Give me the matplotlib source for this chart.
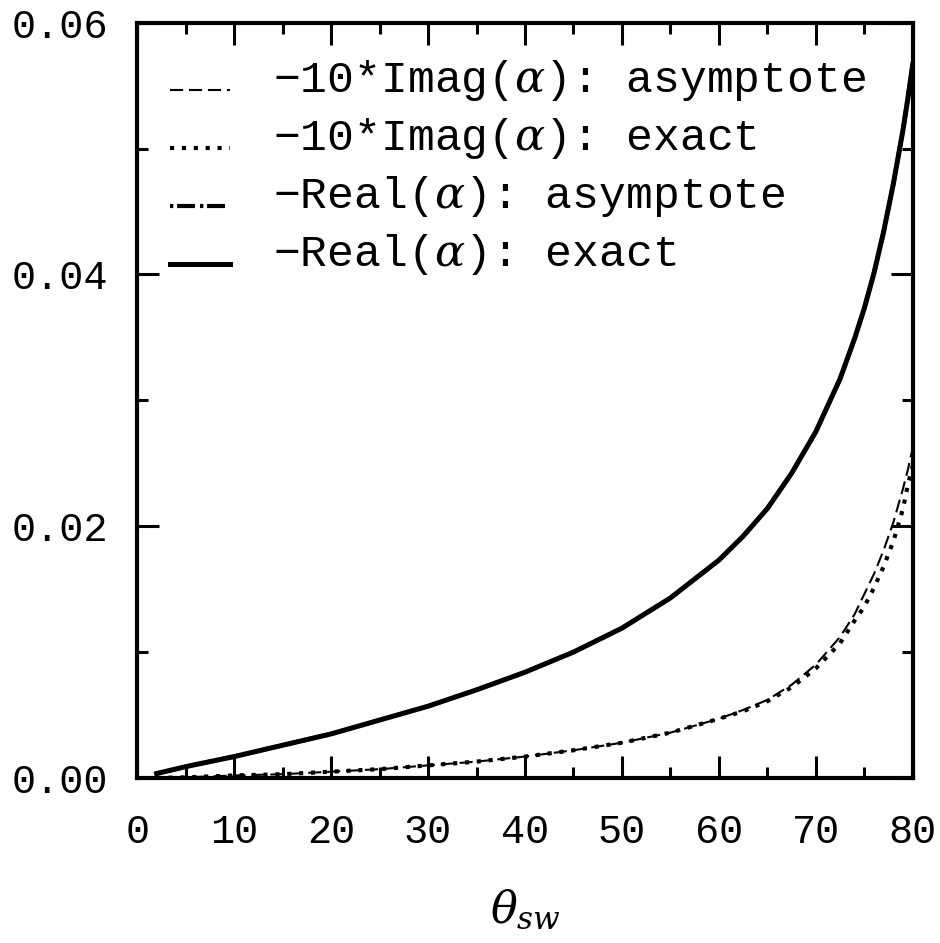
import numpy as np
import matplotlib
matplotlib.use("Agg")
import matplotlib.pyplot as plt
import matplotlib.transforms as mtransforms

plt.rcParams['font.family'] = ['Liberation Mono', 'DejaVu Sans']
plt.rcParams['mathtext.fontset'] = 'dejavuserif'

theta = [2, 5, 10, 15, 20, 25, 30, 35, 40, 45, 50, 55, 60, 62.5, 65, 67.5,
         70, 72.5, 74, 75, 76, 77, 78, 79, 79.5, 80]

# -Real(alpha), exact and asymptote (the two lie on top of each other)
real_exact = [0.00035, 0.0009, 0.0017, 0.0026, 0.0035, 0.0046, 0.0057,
              0.0070, 0.0084, 0.0100, 0.0119, 0.0143, 0.0173, 0.0192,
              0.0214, 0.0242, 0.0275, 0.0317, 0.0349, 0.0373, 0.0401,
              0.0434, 0.0472, 0.0515, 0.0540, 0.0567]
real_asym = [0.00035, 0.0009, 0.0017, 0.0026, 0.0035, 0.0046, 0.0057,
             0.0070, 0.0084, 0.0100, 0.0119, 0.0143, 0.0173, 0.0192,
             0.0214, 0.0242, 0.0275, 0.0317, 0.0349, 0.0373, 0.0401,
             0.0434, 0.0472, 0.0515, 0.0540, 0.0567]

# -10*Imag(alpha)
imag_asym = [0.0, 0.00005, 0.0002, 0.0003, 0.0005, 0.0007, 0.0010, 0.0013,
             0.0017, 0.0022, 0.0028, 0.0036, 0.0047, 0.0054, 0.0062,
             0.0074, 0.0090, 0.0112, 0.0130, 0.0146, 0.0162, 0.0181,
             0.0203, 0.0230, 0.0245, 0.0262]
imag_exact = [0.0, 0.00005, 0.0002, 0.0003, 0.0005, 0.0007, 0.0010, 0.0013,
              0.0017, 0.0022, 0.0028, 0.0036, 0.0047, 0.0053, 0.0061,
              0.0072, 0.0087, 0.0107, 0.0125, 0.0136, 0.0151, 0.0168,
              0.0188, 0.0214, 0.0233, 0.0248]

labels = ['\u221210*Imag($\\alpha$): asymptote',
          '\u221210*Imag($\\alpha$): exact',
          '\u2212Real($\\alpha$): asymptote',
          '\u2212Real($\\alpha$): exact']

fig = plt.figure(figsize=(9.4, 9.43), dpi=100)
ax = fig.add_axes([0.146, 0.175, 0.825, 0.801])

ax.plot(theta, imag_asym, color='black', lw=1.5, dashes=(6.3, 2.8),
        dash_capstyle='butt', label=labels[0])
ax.plot(theta, imag_exact, color='black', lw=3, dashes=(1, 1.85),
        dash_capstyle='butt', label=labels[1])
ax.plot(theta, real_asym, color='black', lw=3, dashes=(0.8, 0.9, 4.3, 1.2),
        dash_capstyle='butt', label=labels[2])
ax.plot(theta, real_exact, color='black', lw=3.6, label=labels[3])

ax.set_xlim(0, 80)
ax.set_ylim(0, 0.06)
ax.set_xticks(np.arange(0, 81, 10))
ax.set_xticks(np.arange(0, 81, 5), minor=True)
ax.set_yticks([0.0, 0.02, 0.04, 0.06])
ax.set_yticks(np.arange(0, 0.061, 0.01), minor=True)
ax.set_yticklabels(['0.00', '0.02', '0.04', '0.06'])

ax.tick_params(which='both', direction='in', top=True, right=True,
               width=2.2, labelsize=29)
ax.tick_params(which='major', length=16)
ax.tick_params(which='minor', length=8)
ax.tick_params(axis='x', pad=25.5)
ax.tick_params(axis='y', pad=21)
for s in ax.spines.values():
    s.set_linewidth(3)

ax.set_xlabel('$\\theta_{sw}$', fontsize=32, labelpad=26)

leg = ax.legend(loc='upper left', bbox_to_anchor=(0.0425, 0.935),
                frameon=False, fontsize=32.2, handlelength=1.34,
                handletextpad=0.95, labelspacing=0.29, borderpad=0,
                borderaxespad=0)
# the sample lines sit on the text baseline in the original
lift = mtransforms.ScaledTranslation(0, 0.14, fig.dpi_scale_trans)
for t in leg.get_texts():
    t.set_transform(t.get_transform() + lift)

fig.savefig('out.png', dpi=100)
